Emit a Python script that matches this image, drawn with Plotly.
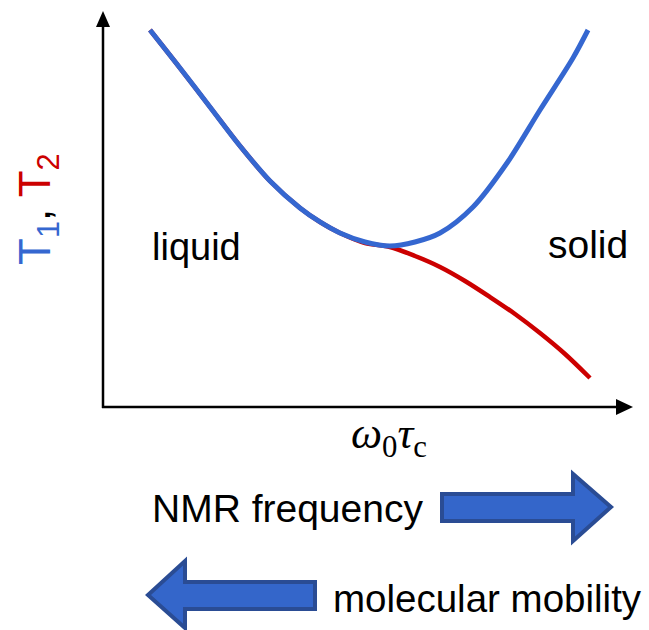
import plotly.graph_objects as go

W, H = 649, 630

t1_x = [0.892, 1.461, 2.030, 2.600, 3.169, 3.738, 4.118, 4.497, 4.972, 5.446,
        5.920, 6.395, 7.021, 7.666, 8.292, 8.918, 9.203]
t1_y = [9.618, 8.651, 7.659, 6.667, 5.776, 5.089, 4.733, 4.453, 4.224, 4.122,
        4.224, 4.453, 5.115, 6.234, 7.583, 8.906, 9.618]
t2_x = [0.892, 1.461, 2.030, 2.600, 3.169, 3.738, 4.118, 4.497, 4.972, 5.446,
        5.920, 6.395, 6.869, 7.343, 7.818, 8.292, 8.767, 9.241]
t2_y = [9.618, 8.651, 7.659, 6.667, 5.776, 5.089, 4.733, 4.453, 4.198, 4.097,
        3.868, 3.588, 3.232, 2.824, 2.392, 1.908, 1.374, 0.763]

x_title = "<i>ω</i><sub>0</sub><i>τ</i><sub>c</sub>"
regime_labels = ["liquid", "solid"]
arrow_labels = ["NMR frequency", "molecular mobility"]

BLUE = "#3567D0"
RED = "#CC0000"
ARROW_FILL = "#3466CA"
ARROW_EDGE = "#2A4C94"
SANS = "Liberation Sans, Arial, sans-serif"


def X(px):
    return px / W


def Y(py):
    return 1 - py / H


fig = go.Figure()
fig.add_trace(go.Scatter(x=t2_x, y=t2_y, mode="lines",
                         line=dict(color=RED, width=4.5, shape="spline", smoothing=0.9),
                         hoverinfo="skip", showlegend=False))
fig.add_trace(go.Scatter(x=t1_x, y=t1_y, mode="lines",
                         line=dict(color=BLUE, width=5, shape="spline", smoothing=0.9),
                         hoverinfo="skip", showlegend=False))

fig.update_layout(
    width=W, height=H,
    margin=dict(l=0, r=0, t=0, b=0),
    paper_bgcolor="white", plot_bgcolor="white",
    xaxis=dict(domain=[X(103), X(630)], range=[0, 10], visible=False, fixedrange=True),
    yaxis=dict(domain=[Y(408), Y(15)], range=[0, 10], visible=False, fixedrange=True),
)


def path(points):
    return "M " + " L ".join(f"{X(a):.5f},{Y(b):.5f}" for a, b in points) + " Z"


shapes = [
    dict(type="line", xref="paper", yref="paper", x0=X(103), y0=Y(408), x1=X(103), y1=Y(24),
         line=dict(color="black", width=2.5)),
    dict(type="line", xref="paper", yref="paper", x0=X(102), y0=Y(407), x1=X(618), y1=Y(407),
         line=dict(color="black", width=2.5)),
    dict(type="path", xref="paper", yref="paper", path=path([(96, 27), (110, 27), (103, 11)]),
         fillcolor="black", line=dict(width=0)),
    dict(type="path", xref="paper", yref="paper", path=path([(616, 399), (616, 415), (633, 407)]),
         fillcolor="black", line=dict(width=0)),
    # right block arrow
    dict(type="path", xref="paper", yref="paper",
         path=path([(442, 494), (573, 494), (573, 474), (611, 507), (573, 541), (573, 521), (442, 521)]),
         fillcolor=ARROW_FILL, line=dict(color=ARROW_EDGE, width=4)),
    # left block arrow
    dict(type="path", xref="paper", yref="paper",
         path=path([(315, 582), (185, 582), (185, 561), (148, 595), (185, 628), (185, 609), (315, 609)]),
         fillcolor=ARROW_FILL, line=dict(color=ARROW_EDGE, width=4)),
]
fig.update_layout(shapes=shapes)

ann = [
    dict(x=X(38), y=Y(209), textangle=-90,
         text=f'<span style="color:{BLUE}">T<sub>1</sub></span>, <span style="color:{RED}">T<sub>2</sub></span>',
         font=dict(family=SANS, size=44, color="black")),
    dict(x=X(389), y=Y(436), text=x_title,
         font=dict(family="Liberation Serif, Times New Roman, serif", size=44, color="black")),
    dict(x=X(196), y=Y(247), text=regime_labels[0], font=dict(family=SANS, size=38, color="black")),
    dict(x=X(588), y=Y(245), text=regime_labels[1], font=dict(family=SANS, size=39, color="black")),
    dict(x=X(150), y=Y(508), xanchor="left", text=arrow_labels[0],
         font=dict(family=SANS, size=39, color="black")),
    dict(x=X(331), y=Y(598), xanchor="left", text=arrow_labels[1],
         font=dict(family=SANS, size=38.5, color="black")),
]
for a in ann:
    a.update(xref="paper", yref="paper", showarrow=False)
    a.setdefault("xanchor", "center")
    a.setdefault("yanchor", "middle")
fig.update_layout(annotations=ann)

fig.write_html("out.html")
